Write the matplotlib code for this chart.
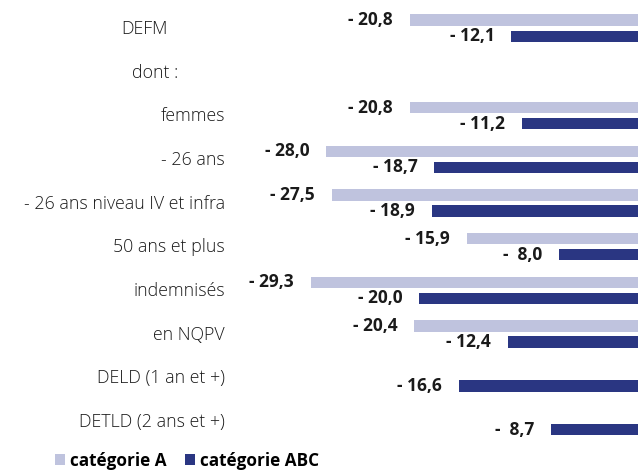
import numpy as np
import matplotlib.pyplot as plt

plt.rcParams['font.family'] = ['Open Sans', 'DejaVu Sans']

categories = ["DEFM", "dont :", "femmes", "- 26 ans", "- 26 ans niveau IV et infra",
              "50 ans et plus", "indemnisés", "en NQPV", "DELD (1 an et +)",
              "DETLD (2 ans et +)"]
cat_a = [-20.8, np.nan, -20.8, -28.0, -27.5, -15.9, -29.3, -20.4, np.nan, np.nan]
cat_abc = [-12.1, np.nan, -11.2, -18.7, -18.9, -8.0, -20.0, -12.4, -16.6, -8.7]

col_a = "#bfc3de"
col_abc = "#2a3682"

W, H = 638, 471
fig = plt.figure(figsize=(W / 100, H / 100), dpi=100)
# axes runs past the right edge: zero line sits outside the picture
ax = fig.add_axes([240 / W, (H - 444) / H, 412 / W, 437 / H])
ax.set_xlim(-35.37, 0)
ax.set_ylim(9.5, -0.5)
ax.axis("off")

y = np.arange(len(categories))
ba = ax.barh(y - 0.2, cat_a, height=0.26, color=col_a, label="catégorie A")
bb = ax.barh(y + 0.17, cat_abc, height=0.26, color=col_abc, label="catégorie ABC")

def fmt(v):
    s = f"{abs(v):.1f}".replace(".", ",")
    if abs(v) < 10:
        s = " " + s
    return "- " + s

for yy, vals in ((y - 0.2, cat_a), (y + 0.17, cat_abc)):
    for yi, v in zip(yy, vals):
        if np.isnan(v):
            continue
        ax.annotate(fmt(v), (v, yi), xytext=(-12, 0), textcoords="offset points",
                    ha="right", va="center", fontsize=12.5, fontweight="bold",
                    color="#1a1a1a")

# category labels, right aligned except the first two
shift = {0: -57, 1: -47}
for i, c in enumerate(categories):
    ax.annotate(c, (0, i), xycoords=("axes fraction", "data"),
                xytext=(-15 + shift.get(i, 0), 0), textcoords="offset pixels",
                ha="right", va="center", fontsize=12.8, fontweight="light",
                color="#1a1a1a")

fig.legend(handles=[ba, bb], loc="lower left", bbox_to_anchor=(40 / W, -14 / H),
           ncol=2, frameon=False, prop={"weight": "bold", "size": 12.3},
           handlelength=0.55, handleheight=0.55, handletextpad=0.3,
           columnspacing=1.1)

fig.savefig("out.png", dpi=100)
